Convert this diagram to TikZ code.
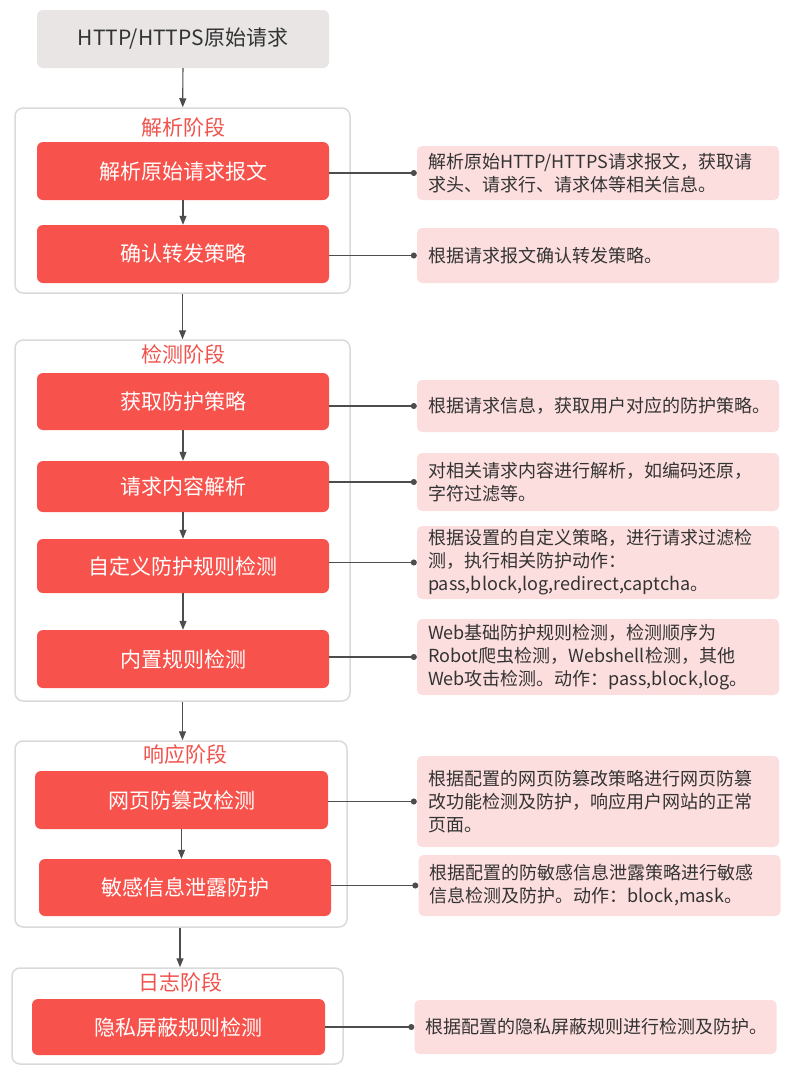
\documentclass[tikz,border=0pt]{standalone}
\usepackage{fontspec}
\setmainfont{Noto Sans CJK SC}
\usetikzlibrary{arrows.meta}

\definecolor{stepred}{HTML}{F7524B}
\definecolor{notepink}{HTML}{FDDEDE}
\definecolor{topgray}{HTML}{E9E5E5}
\definecolor{framegray}{HTML}{DADADA}
\definecolor{titlered}{HTML}{F0524C}
\definecolor{linkgray}{HTML}{4D4D4D}
\definecolor{textgray}{HTML}{333333}

\tikzset{
  stagebox/.style={draw=framegray,line width=1.5pt,rounded corners=8pt,fill=white},
  stepbox/.style={fill=stepred,rounded corners=6pt,text=white,minimum width=292,minimum height=58,
    font=\fontsize{21}{25}\selectfont},
  notebox/.style={fill=notepink,rounded corners=5pt,text=textgray,inner xsep=11pt,text width=340pt,
    align=left,font=\fontsize{18}{23}\selectfont},
  titletext/.style={text=titlered,font=\fontsize{21}{25}\selectfont},
  arr/.style={-{Triangle[length=9pt,width=7pt]},linkgray,line width=1.2pt},
  link/.style={-{Circle[length=6pt]},linkgray,line width=1.2pt}
}

\begin{document}
\begin{tikzpicture}[x=1pt,y=-1pt]
  \useasboundingbox (0,0) rectangle (796,1071);

  % Request
  \node[fill=topgray,rounded corners=6pt,text=textgray,minimum width=292,minimum height=58,
    font=\fontsize{21}{25}\selectfont] (top) at (183,39) {HTTP/HTTPS原始请求};

  % Stage frames
  \node[stagebox,minimum width=335,minimum height=185] (s1) at (182.5,200.5) {};
  \node[stagebox,minimum width=335,minimum height=361] (s2) at (182.5,520.5) {};
  \node[stagebox,minimum width=332,minimum height=186] (s3) at (181,834) {};
  \node[stagebox,minimum width=331,minimum height=96] (s4) at (177.5,1016) {};

  \node[titletext] (t1) at (183,127) {解析阶段};
  \node[titletext] (t2) at (183,354) {检测阶段};
  \node[titletext] (t3) at (185,754) {响应阶段};
  \node[titletext] (t4) at (180,982) {日志阶段};

  % Steps
  \node[stepbox] (p1) at (183,171) {解析原始请求报文};
  \node[stepbox] (p2) at (183,254) {确认转发策略};
  \node[stepbox,minimum height=57] (p3) at (183,401.5) {获取防护策略};
  \node[stepbox,minimum height=51] (p4) at (183,486.5) {请求内容解析};
  \node[stepbox,minimum height=54] (p5) at (183,566) {自定义防护规则检测};
  \node[stepbox] (p6) at (183,659) {内置规则检测};
  \node[stepbox,minimum width=293] (p7) at (181.5,800) {网页防篡改检测};
  \node[stepbox,minimum height=57] (p8) at (185,887.5) {敏感信息泄露防护};
  \node[stepbox,minimum width=293,minimum height=56] (p9) at (178.5,1027) {隐私屏蔽规则检测};

  % Notes
  \node[notebox,minimum height=54] (d1) at (598,173) {解析原始HTTP/HTTPS请求报文，获取请\\求头、请求行、请求体等相关信息。};
  \node[notebox,minimum height=55] (d2) at (598,255.5) {根据请求报文确认转发策略。};
  \node[notebox,minimum height=52] (d3) at (598,406) {根据请求信息，获取用户对应的防护策略。};
  \node[notebox,minimum height=58] (d4) at (598,482) {对相关请求内容进行解析，如编码还原，\\字符过滤等。};
  \node[notebox,minimum height=73] (d5) at (598,562.5) {根据设置的自定义策略，进行请求过滤检\\测，执行相关防护动作：\\pass,block,log,redirect,captcha。};
  \node[notebox,minimum height=76] (d6) at (598,657) {Web基础防护规则检测，检测顺序为\\Robot爬虫检测，Webshell检测，其他\\Web攻击检测。动作：pass,block,log。};
  \node[notebox,minimum height=91] (d7) at (598,801.5) {根据配置的网页防篡改策略进行网页防篡\\改功能检测及防护，响应用户网站的正常\\页面。};
  \node[notebox,minimum height=61] (d8) at (599.5,885.5) {根据配置的防敏感信息泄露策略进行敏感\\信息检测及防护。动作：block,mask。};
  \node[notebox,minimum height=54] (d9) at (595.5,1027) {根据配置的隐私屏蔽规则进行检测及防护。};

  % Flow
  \draw[arr] (top) -- (s1);
  \draw[arr] (s1.south) -- (s1.south |- s2.north);
  \draw[arr] (s2.south) -- (s2.south |- s3.north);
  \draw[arr] (s3.south -| t4) -- (t4 |- s4.north);
  \draw[arr] (p1) -- (p2);
  \draw[arr] (p3) -- (p4);
  \draw[arr] (p4) -- (p5);
  \draw[arr] (p5) -- (p6);
  \draw[arr] (p7.south) -- (p7.south |- p8.north);

  % Links to notes
  \foreach \i in {1,...,9} \draw[link] (p\i.east |- d\i.west) -- (d\i.west);
\end{tikzpicture}
\end{document}
